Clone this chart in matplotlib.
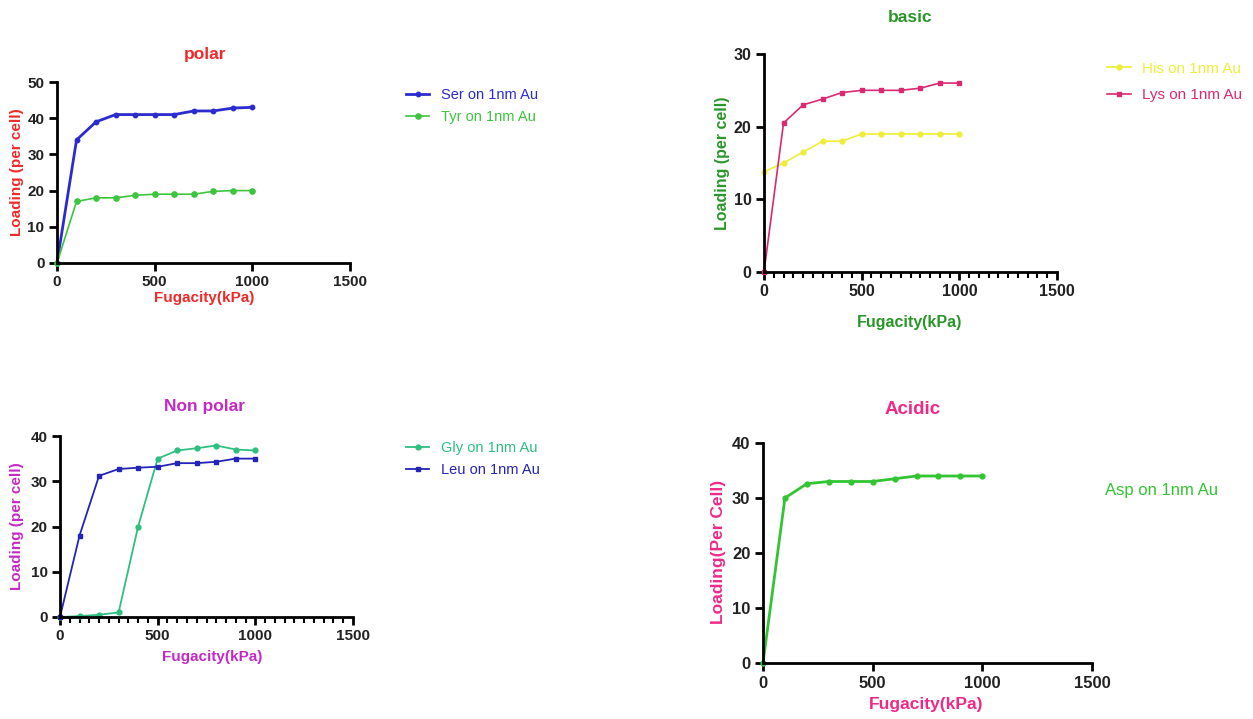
import matplotlib
matplotlib.use("Agg")
import matplotlib.pyplot as plt
from matplotlib.ticker import MultipleLocator

plt.rcParams['font.family'] = ['Liberation Sans', 'DejaVu Sans']

# data
fug = [0, 100, 200, 300, 400, 500, 600, 700, 800, 900, 1000]

ser = [0, 34, 39, 41, 41, 41, 41, 42, 42, 42.8, 43]
tyr = [0, 17, 18, 18, 18.7, 19, 19, 19, 19.8, 20, 20]

his = [13.8, 15, 16.5, 18, 18, 19, 19, 19, 19, 19, 19]
lys = [0, 20.5, 23, 23.8, 24.7, 25, 25, 25, 25.3, 26, 26]

gly = [0, 0.2, 0.5, 1, 20, 35, 36.8, 37.3, 37.9, 37, 36.8]
leu = [0, 18, 31.2, 32.7, 33, 33.2, 34, 34, 34.3, 35, 35]

asp = [0, 30, 32.6, 33, 33, 33, 33.5, 34, 34, 34, 34]

W, H = 1253, 719
fig = plt.figure(figsize=(W / 100, H / 100), dpi=100)


def px_axes(x0, x1, y0, y1):
    # x0,x1 : pixel x of 0 and 1500 ; y0,y1 : pixel y of bottom and top
    return fig.add_axes([x0 / W, 1 - y0 / H, (x1 - x0) / W, (y0 - y1) / H])


def ftext(x, y, s, **kw):
    fig.text(x / W, 1 - y / H, s, ha="center", va="center", **kw)


def style(ax, ymax, ystep, minor=False, size=11):
    ax.set_xlim(0, 1500)
    ax.set_ylim(0, ymax)
    ax.set_xticks([0, 500, 1000, 1500])
    ax.set_yticks(range(0, ymax + 1, ystep))
    if minor:
        ax.xaxis.set_minor_locator(MultipleLocator(50))
        ax.tick_params(axis="x", which="minor", length=4, width=1.5)
    for s in ["top", "right"]:
        ax.spines[s].set_visible(False)
    for s in ["left", "bottom"]:
        ax.spines[s].set_linewidth(2)
        ax.spines[s].set_clip_on(False)
    ax.tick_params(which="major", length=6, width=2, labelsize=size, pad=3)
    for lab in ax.get_xticklabels() + ax.get_yticklabels():
        lab.set_fontweight("bold")
        lab.set_color("#222222")


# polar
c1 = "#ee2a2a"
ax1 = px_axes(57, 350, 263, 82)
l1, = ax1.plot(fug, ser, color="#2b2bcf", lw=2, marker="o", ms=3.2, clip_on=False)
l2, = ax1.plot(fug, tyr, color="#3ec43e", lw=1.2, marker="o", ms=3.8, clip_on=False)
style(ax1, 50, 10)
ftext(205, 54, "polar", color=c1, fontsize=12.5, fontweight="bold")
ftext(204, 298, "Fugacity(kPa)", color=c1, fontsize=11, fontweight="bold")
ftext(17, 172, "Loading (per cell)", color=c1, fontsize=11, fontweight="bold", rotation=90)
fig.legend([l1, l2], ["Ser on 1nm Au", "Tyr on 1nm Au"], loc="center left",
           bbox_to_anchor=(393 / W, 1 - 106 / H), frameon=False, fontsize=10.5,
           handlelength=1.6, handletextpad=0.8, labelspacing=0.55, labelcolor="linecolor")

# basic
c2 = "#2a962a"
ax2 = px_axes(764, 1057, 272, 54)
l3, = ax2.plot(fug, his, color="#eeee3a", lw=1.2, marker="o", ms=3.5, clip_on=False)
l4, = ax2.plot(fug, lys, color="#d92a72", lw=1.2, marker="s", ms=3.5, clip_on=False)
style(ax2, 30, 10, minor=True, size=11.5)
ftext(910, 18, "basic", color=c2, fontsize=12.5, fontweight="bold")
ftext(910, 322, "Fugacity(kPa)", color=c2, fontsize=11.5, fontweight="bold")
ftext(722, 163, "Loading (per cell)", color=c2, fontsize=11.5, fontweight="bold", rotation=90)
fig.legend([l3, l4], ["His on 1nm Au", "Lys on 1nm Au"], loc="center left",
           bbox_to_anchor=(1093 / W, 1 - 82 / H), frameon=False, fontsize=11,
           handlelength=1.6, handletextpad=0.7, labelspacing=0.85, labelcolor="linecolor")

# non polar
c3 = "#c42ac4"
ax3 = px_axes(60, 353, 617, 436)
l5, = ax3.plot(fug, gly, color="#2fbf80", lw=1.3, marker="o", ms=3.5, clip_on=False)
l6, = ax3.plot(fug, leu, color="#2424b8", lw=1.3, marker="s", ms=3.5, clip_on=False)
style(ax3, 40, 10, minor=True)
ftext(205, 406, "Non polar", color=c3, fontsize=12.5, fontweight="bold")
ftext(212, 657, "Fugacity(kPa)", color=c3, fontsize=11, fontweight="bold")
ftext(17, 526, "Loading (per cell)", color=c3, fontsize=11, fontweight="bold", rotation=90)
fig.legend([l5, l6], ["Gly on 1nm Au", "Leu on 1nm Au"], loc="center left",
           bbox_to_anchor=(393 / W, 1 - 459 / H), frameon=False, fontsize=10.5,
           handlelength=1.6, handletextpad=0.8, labelspacing=0.55, labelcolor="linecolor")

# acidic
c4 = "#ee2a88"
ax4 = px_axes(763, 1092, 663, 443)
l7, = ax4.plot(fug, asp, color="#33c433", lw=2, marker="o", ms=3.5, clip_on=False)
style(ax4, 40, 10, size=12)
ftext(913, 409, "Acidic", color=c4, fontsize=13.5, fontweight="bold")
ftext(926, 705, "Fugacity(kPa)", color=c4, fontsize=12.5, fontweight="bold")
ftext(718, 552, "Loading(Per Cell)", color=c4, fontsize=12.5, fontweight="bold", rotation=90)
ftext(1162, 490, "Asp on 1nm Au", color="#33c433", fontsize=12)

fig.savefig("out.png", dpi=100)
